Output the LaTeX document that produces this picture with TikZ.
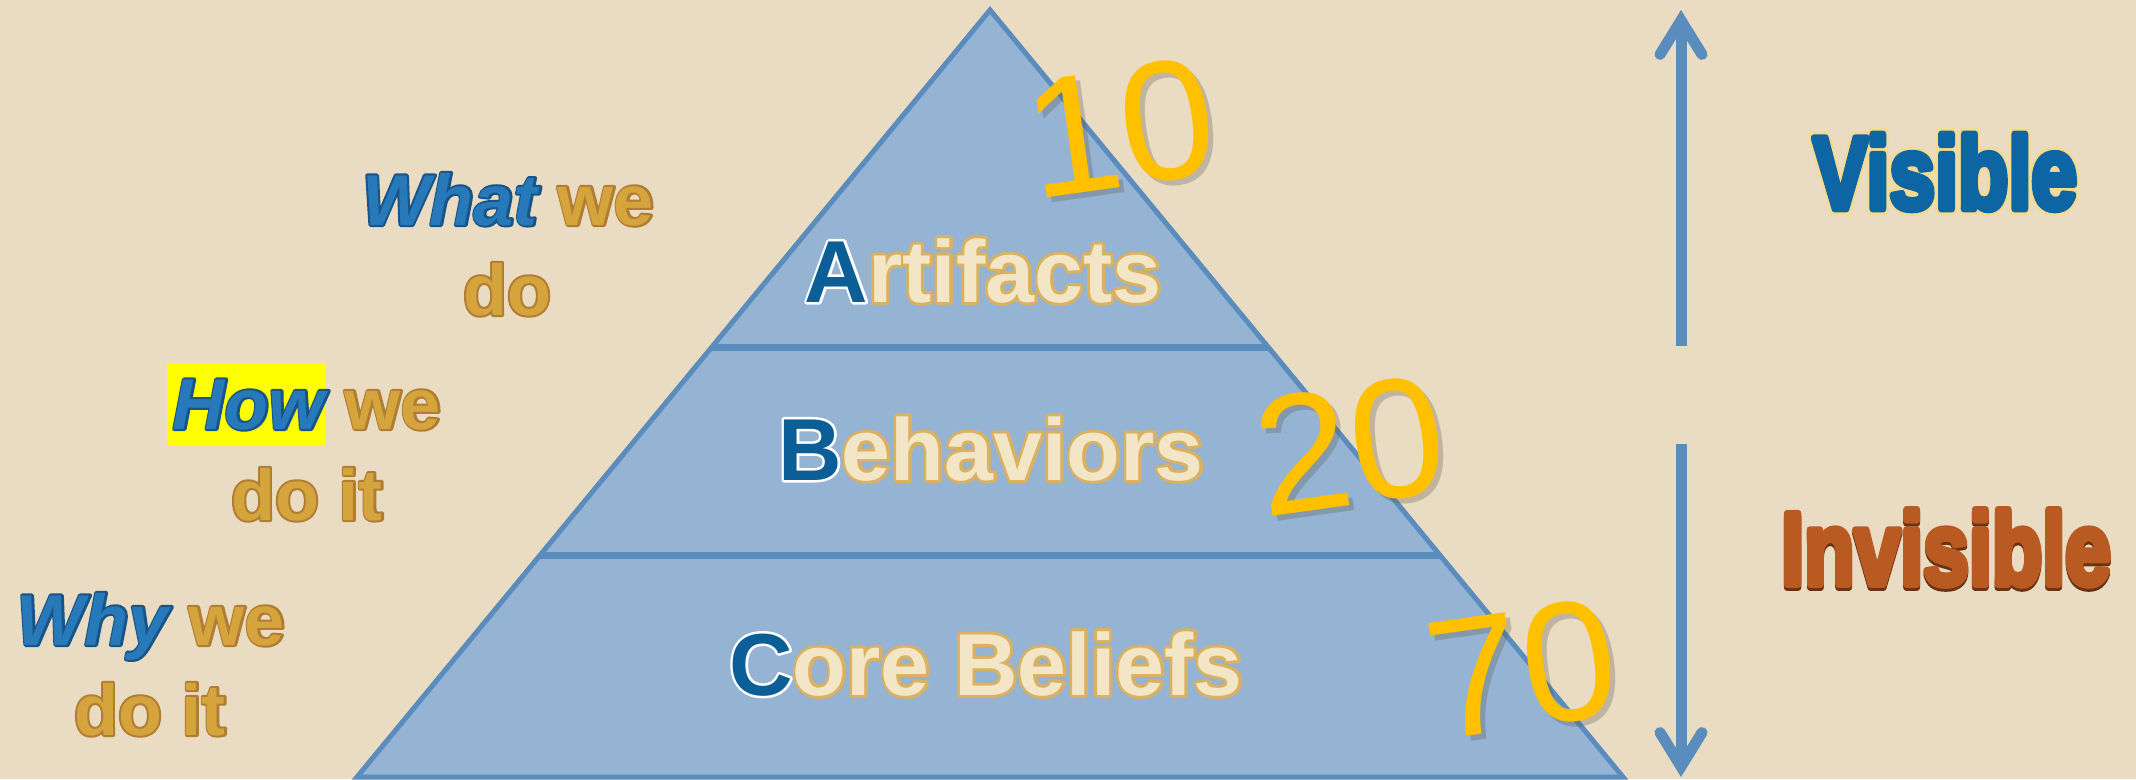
\documentclass[tikz,border=0pt]{standalone}
\usepackage{fontspec}
\setmainfont{Liberation Sans}
\newfontfamily\numfont{Liberation Sans}
\usetikzlibrary{arrows.meta,calc}

\definecolor{bg}{HTML}{EADCC2}
\definecolor{pyrfill}{HTML}{95B3D3}
\definecolor{pyrline}{HTML}{5A8CBD}
\definecolor{dblue}{HTML}{0C5E97}
\definecolor{cream}{HTML}{F3E6C6}
\definecolor{numyellow}{HTML}{FFC000}
\definecolor{vblue}{HTML}{0D65A3}
\definecolor{ibrown}{HTML}{B95A22}
\definecolor{lgold}{HTML}{D5A43C}
\definecolor{lblue}{HTML}{2779BA}
\definecolor{hlyellow}{HTML}{FFFF00}
\definecolor{shadowgray}{HTML}{5E5A50}

% stroke-and-fill text: #1 stroke colour (rgb 0-1), #2 stroke width, #3 text
\newcommand{\strk}[3]{\special{pdf:literal direct 2 Tr 1 j #2 w #1 RG}#3\special{pdf:literal direct 0 Tr 0 j}}
% stroke-only text
\newcommand{\strkonly}[3]{\special{pdf:literal direct 1 Tr 1 j #2 w #1 RG}#3\special{pdf:literal direct 0 Tr 0 j}}
% outline drawn beneath the filled text
\newcommand{\outl}[3]{\rlap{\strkonly{#1}{#2}{#3}}#3}
\newcommand{\initialletter}[1]{{\color{dblue}\outl{1 1 1}{5}{#1}}}
\newcommand{\restword}[1]{\outl{0.855 0.690 0.380}{6}{#1}}
\newcommand{\goldword}[1]{{\color{lgold}\outl{0.690 0.490 0.200}{4}{#1}}}
\newcommand{\blueword}[1]{{\color{lblue}\itshape\outl{0.090 0.330 0.530}{4}{#1}}}

\tikzset{
  pyrtext/.style={anchor=base, inner sep=0pt, font=\fontsize{88}{100}\selectfont\bfseries, text=cream},
  lefttext/.style={anchor=base, inner sep=0pt, font=\fontsize{72}{90}\selectfont\bfseries},
  numtext/.style={inner sep=0pt, font=\numfont\fontsize{170}{170}\selectfont, text=numyellow, rotate=8},
  numshadow/.style={numtext, text=shadowgray, opacity=0.3},
  sidetext/.style={inner sep=0pt, font=\fontsize{103}{120}\selectfont\bfseries},
  updown/.style={draw=pyrline, line width=11pt,
    -{Straight Barb[length=34pt,width=42pt,line cap=round,line join=miter]}},
  divider/.style={draw=pyrline, line width=7pt},
}

\begin{document}
\begin{tikzpicture}[x=1pt,y=-1pt]
\useasboundingbox (0,0) rectangle (2136,779);
\fill[bg] (0,0) rectangle (2136,779);

% pyramid
\coordinate (apex) at (990,10);
\coordinate (bl) at (357,777);
\coordinate (br) at (1623,777);
\begin{scope}
  \clip (0,0) rectangle (2136,779);
  \filldraw[fill=pyrfill, draw=pyrline, line width=5pt, line join=miter]
    (apex) -- (br) -- (bl) -- cycle;
\end{scope}
\coordinate (d1l) at ($(apex)!0.4394!(bl)$);
\coordinate (d1r) at ($(apex)!0.4394!(br)$);
\coordinate (d2l) at ($(apex)!0.7106!(bl)$);
\coordinate (d2r) at ($(apex)!0.7106!(br)$);
\draw[divider] (d1l) -- (d1r);
\draw[divider] (d2l) -- (d2r);

% pyramid labels
\node[pyrtext] (art) at (983,302) {\initialletter{A}\restword{rtifacts}};
\node[pyrtext] (beh) at (991,480) {\initialletter{B}\restword{ehaviors}};
\node[pyrtext] (core) at (986,695) {\initialletter{C}\restword{ore Beliefs}};

% percentages (with soft drop shadow)
\node[numshadow] at (1125,133) {10};
\node[numtext] (n10) at (1120,128) {10};
\node[numshadow] at (1355,451) {20};
\node[numtext] (n20) at (1350,446) {20};
\node[numshadow] at (1527,674) {70};
\node[numtext] (n70) at (1522,669) {70};

% left labels
\node[lefttext] (what1) at (508,225) {\blueword{What} \goldword{we}};
\node[lefttext] (what2) at (507,315) {\goldword{do}};
\node[fill=hlyellow, inner sep=0pt, minimum width=158pt, minimum height=83pt] (howbox) at (246,404.5) {};
\node[lefttext] (how1) at (307,429) {\blueword{How} \goldword{we}};
\node[lefttext] (how2) at (307,520) {\goldword{do it}};
\node[lefttext] (why1) at (151,645) {\blueword{Why} \goldword{we}};
\node[lefttext] (why2) at (150,735) {\goldword{do it}};

% arrows
\coordinate (upS) at (1681,346);
\coordinate (upT) at (1681,10);
\draw[updown] (upS) -- (upT);
\coordinate (dnS) at (1681,444);
\coordinate (dnT) at (1681,777);
\draw[updown] (dnS) -- (dnT);

% right labels
\node[sidetext, text=vblue] (vis) at (1945,172)
  {\scalebox{0.8}[1]{\rlap{\strkonly{0.965 0.860 0.560}{13}{Visible}}\strk{0.051 0.396 0.639}{7}{Visible}}};
\node[sidetext, text=ibrown] (invis) at (1946,549)
  {\scalebox{0.8}[1]{\rlap{\raisebox{-3pt}{\color{black!60!ibrown}\strk{0.42 0.20 0.07}{7}{Invisible}}}\strk{0.725 0.353 0.133}{7}{Invisible}}};
\end{tikzpicture}
\end{document}
